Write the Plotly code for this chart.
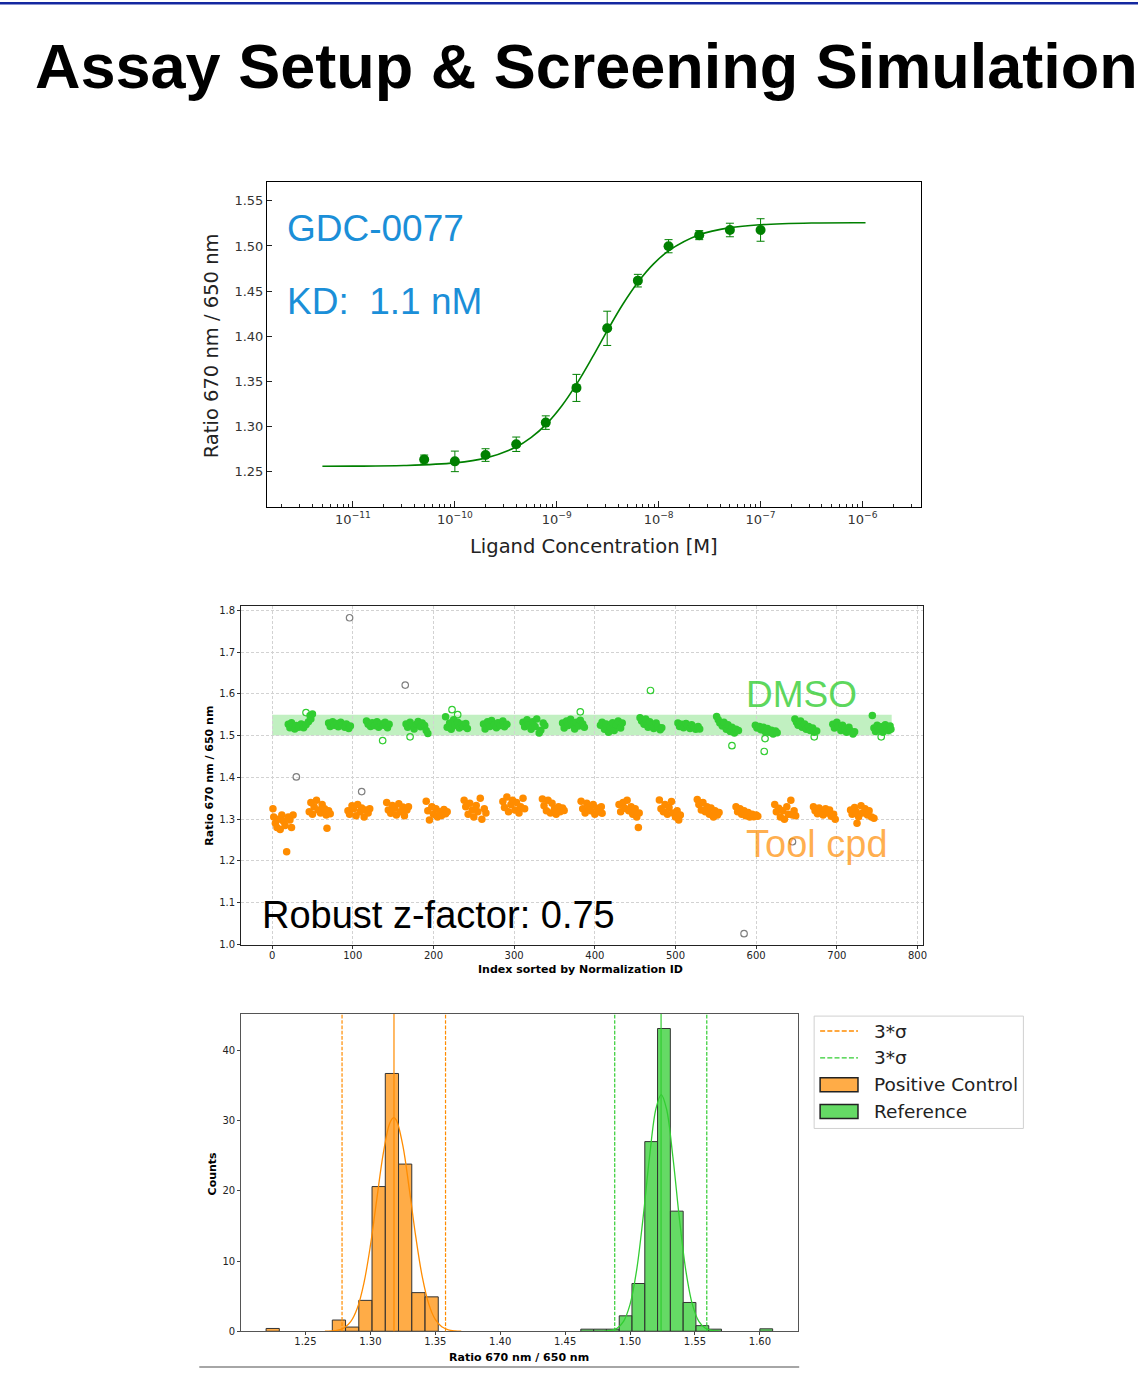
import numpy as np
import plotly.graph_objects as go

W, H = 1142, 1384

# ---------------- data: binding curve ----------------
conc_M = [5e-11, 1e-10, 2e-10, 4e-10, 7.8e-10, 1.56e-9, 3.125e-9, 6.25e-9, 1.25e-8, 2.5e-8, 5e-8, 1e-7]
ratio_mean = [1.263, 1.261, 1.268, 1.280, 1.304, 1.3425, 1.4086, 1.4615, 1.4997, 1.512, 1.5177, 1.5177]
ratio_err = [0.005, 0.0114, 0.007, 0.008, 0.0075, 0.015, 0.019, 0.007, 0.0073, 0.005, 0.0075, 0.0125]
fit_log_conc = [-11.3, -11.0, -10.5, -10.0, -9.7, -9.4, -9.25, -9.1, -8.95, -8.8, -8.65, -8.5,
                -8.35, -8.2, -8.05, -7.9, -7.6, -7.3, -7.0, -6.5, -5.97]
fit_ratio = [1.2556, 1.2557, 1.2564, 1.2593, 1.2646, 1.2769, 1.2876, 1.3026, 1.3227, 1.3478, 1.3766, 1.4069,
             1.4356, 1.4603, 1.4801, 1.4948, 1.5124, 1.5203, 1.5236, 1.5255, 1.5258]
decade_ticks = [1e-11, 1e-10, 1e-9, 1e-8, 1e-7, 1e-6]
decade_labels = ["10<sup>\u221211</sup>", "10<sup>\u221210</sup>", "10<sup>\u22129</sup>",
                 "10<sup>\u22128</sup>", "10<sup>\u22127</sup>", "10<sup>\u22126</sup>"]

# ---------------- data: screening scatter ----------------
dmso_idx = [20, 22, 24, 26, 28, 30, 33, 36, 39, 42, 45, 47, 48, 50,
            70, 72, 75, 77, 80, 82, 85, 87, 90, 92, 95, 97,
            117, 119, 122, 124, 127, 130, 132, 135, 138, 140, 143, 145,
            166, 168, 171, 174, 176, 179, 181, 184, 186, 189, 191, 193,
            215, 217, 220, 222, 225, 227, 230, 232, 235, 237, 240, 242,
            262, 264, 267, 270, 272, 275, 278, 280, 283, 286, 288, 291,
            311, 313, 316, 318, 321, 323, 326, 328, 331, 333, 336, 338,
            360, 362, 365, 367, 370, 372, 375, 377, 380, 382, 385, 387,
            407, 409, 412, 414, 417, 419, 422, 424, 427, 429, 432, 434,
            456, 458, 461, 463, 466, 468, 471, 473, 476, 478, 481, 483,
            503, 505, 508, 510, 513, 515, 518, 520, 523, 525, 528, 530,
            551, 553, 555, 558, 560, 563, 565, 568, 570, 573, 575, 578,
            599, 601, 604, 606, 609, 611, 614, 616, 619, 621, 624, 626,
            648, 650, 652, 655, 657, 660, 662, 665, 667, 670, 672, 675,
            695, 697, 700, 702, 705, 707, 710, 712, 715, 717, 720, 722,
            744, 746, 748, 750, 753, 755, 757, 760, 762, 764, 766, 767]
dmso_ratio = [1.527, 1.519, 1.531, 1.522, 1.516, 1.524, 1.520, 1.528, 1.519, 1.526, 1.533, 1.548, 1.540, 1.552,
              1.530, 1.522, 1.533, 1.525, 1.529, 1.521, 1.532, 1.526, 1.520, 1.528, 1.517, 1.523,
              1.535, 1.527, 1.522, 1.531, 1.524, 1.533, 1.520, 1.528, 1.525, 1.532, 1.519, 1.527,
              1.528, 1.520, 1.532, 1.524, 1.516, 1.527, 1.534, 1.521, 1.530, 1.524, 1.512, 1.505,
              1.545, 1.520, 1.530, 1.515, 1.538, 1.525, 1.532, 1.518, 1.527, 1.522, 1.529, 1.517,
              1.528, 1.516, 1.533, 1.522, 1.536, 1.526, 1.519, 1.531, 1.524, 1.535, 1.521, 1.527,
              1.532, 1.521, 1.538, 1.526, 1.515, 1.533, 1.522, 1.540, 1.506, 1.513, 1.530, 1.524,
              1.530, 1.518, 1.535, 1.524, 1.539, 1.527, 1.516, 1.532, 1.523, 1.537, 1.528, 1.520,
              1.525, 1.532, 1.515, 1.528, 1.508, 1.520, 1.531, 1.512, 1.526, 1.535, 1.518, 1.530,
              1.543, 1.535, 1.527, 1.540, 1.520, 1.533, 1.525, 1.517, 1.530, 1.521, 1.514, 1.519,
              1.530, 1.522, 1.527, 1.519, 1.529, 1.523, 1.517, 1.526, 1.520, 1.515, 1.522, 1.516,
              1.546, 1.538, 1.530, 1.523, 1.532, 1.515, 1.526, 1.510, 1.520, 1.506, 1.515, 1.512,
              1.525, 1.518, 1.522, 1.514, 1.520, 1.510, 1.517, 1.508, 1.513, 1.504, 1.511, 1.507,
              1.540, 1.532, 1.525, 1.535, 1.520, 1.528, 1.515, 1.522, 1.512, 1.518, 1.508, 1.511,
              1.527, 1.518, 1.532, 1.522, 1.512, 1.525, 1.516, 1.508, 1.520, 1.511, 1.504, 1.509,
              1.548, 1.518, 1.510, 1.525, 1.514, 1.521, 1.508, 1.526, 1.517, 1.512, 1.523, 1.515]

tool_idx = [1, 2, 4, 6, 8, 10, 12, 14, 16, 18, 20, 22, 24, 26,
            46, 48, 50, 52, 55, 57, 60, 62, 65, 67, 70, 72, 68,
            94, 96, 99, 101, 104, 106, 109, 111, 114, 116, 119, 121,
            142, 144, 147, 149, 152, 154, 157, 159, 162, 164, 167, 169,
            191, 193, 195, 198, 200, 203, 205, 208, 210, 213, 215, 217,
            238, 240, 243, 245, 248, 250, 253, 255, 258, 260, 263, 265,
            286, 288, 291, 293, 296, 298, 301, 303, 306, 308, 311, 313,
            335, 337, 340, 342, 345, 347, 350, 352, 355, 357, 360, 362,
            383, 385, 388, 390, 393, 395, 398, 400, 403, 405, 408, 409,
            430, 432, 435, 437, 440, 442, 445, 447, 450, 452, 455, 454,
            480, 482, 485, 487, 490, 492, 495, 497, 500, 502, 504, 506,
            527, 529, 532, 534, 537, 539, 542, 544, 547, 549, 552, 554,
            575, 577, 580, 582, 585, 587, 590, 592, 595, 597, 600, 602,
            623, 625, 628, 630, 633, 635, 638, 640, 643, 645, 647, 649,
            671, 673, 676, 678, 681, 683, 686, 688, 691, 693, 696, 698,
            717, 719, 722, 724, 727, 730, 732, 735, 738, 740, 743, 746, 725]
tool_ratio = [1.325, 1.305, 1.290, 1.280, 1.300, 1.275, 1.310, 1.295, 1.285, 1.222, 1.305, 1.298, 1.280, 1.310,
              1.318, 1.340, 1.312, 1.330, 1.345, 1.322, 1.315, 1.335, 1.325, 1.310, 1.320, 1.313, 1.278,
              1.320, 1.312, 1.332, 1.325, 1.308, 1.335, 1.318, 1.327, 1.305, 1.322, 1.315, 1.325,
              1.340, 1.322, 1.314, 1.333, 1.326, 1.310, 1.337, 1.318, 1.329, 1.308, 1.322, 1.330,
              1.343, 1.320, 1.298, 1.330, 1.312, 1.325, 1.305, 1.318, 1.309, 1.323, 1.313, 1.318,
              1.345, 1.330, 1.312, 1.338, 1.322, 1.305, 1.333, 1.318, 1.350, 1.300, 1.325, 1.315,
              1.342, 1.328, 1.353, 1.318, 1.335, 1.345, 1.322, 1.340, 1.315, 1.330, 1.350, 1.325,
              1.348, 1.332, 1.320, 1.345, 1.315, 1.338, 1.325, 1.312, 1.330, 1.318, 1.327, 1.321,
              1.343, 1.325, 1.315, 1.338, 1.328, 1.320, 1.335, 1.312, 1.326, 1.318, 1.330, 1.314,
              1.335, 1.318, 1.340, 1.326, 1.345, 1.320, 1.330, 1.312, 1.325, 1.305, 1.315, 1.280,
              1.346, 1.325, 1.318, 1.335, 1.312, 1.328, 1.342, 1.315, 1.305, 1.320, 1.298, 1.310,
              1.347, 1.335, 1.322, 1.340, 1.318, 1.330, 1.312, 1.327, 1.305, 1.320, 1.310, 1.316,
              1.330, 1.318, 1.325, 1.312, 1.320, 1.308, 1.316, 1.305, 1.312, 1.306, 1.310, 1.307,
              1.335, 1.318, 1.326, 1.305, 1.320, 1.300, 1.330, 1.312, 1.345, 1.310, 1.320, 1.308,
              1.330, 1.320, 1.313, 1.327, 1.318, 1.310, 1.325, 1.315, 1.322, 1.307, 1.312, 1.300,
              1.322, 1.312, 1.328, 1.318, 1.306, 1.332, 1.315, 1.325, 1.310, 1.320, 1.305, 1.302, 1.290]

dmso_out_idx = [42, 137, 171, 223, 230, 382, 469, 570, 610, 611, 672, 755]
dmso_out_ratio = [1.555, 1.488, 1.497, 1.562, 1.550, 1.557, 1.608, 1.476, 1.462, 1.493, 1.497, 1.497]
other_out_idx = [96, 30, 165, 111, 585, 645]
other_out_ratio = [1.782, 1.401, 1.621, 1.366, 1.026, 1.246]
dmso_band = [1.50, 1.55]
band_idx = [0, 768]

# ---------------- data: histogram ----------------
pc_bin_centers = [1.2248, 1.2350, 1.2452, 1.2554, 1.2656, 1.2758, 1.2860, 1.2962, 1.3064, 1.3166, 1.3268, 1.3370, 1.3472]
pc_counts = [0.4, 0, 0, 0, 0, 1.6, 0.6, 4.4, 20.6, 36.7, 23.8, 5.5, 4.9]
pc_bin_width = 0.0102
ref_bin_centers = [1.4670, 1.4769, 1.4867, 1.4966, 1.5064, 1.5163, 1.5261, 1.5360, 1.5458, 1.5557,
                   1.5655, 1.5754, 1.5852, 1.5951, 1.6049]
ref_counts = [0.3, 0.3, 0.3, 2.2, 6.8, 27.0, 43.1, 17.1, 4.1, 0.8, 0.3, 0, 0, 0, 0.35]
ref_bin_width = 0.00985
pc_kde_x = [1.265, 1.270, 1.275, 1.280, 1.285, 1.290, 1.295, 1.300, 1.305, 1.310, 1.315, 1.318, 1.320,
            1.325, 1.330, 1.335, 1.340, 1.345, 1.350, 1.355, 1.360, 1.365, 1.370]
pc_kde_y = [0.01, 0.045, 0.16, 0.51, 1.40, 3.31, 6.82, 12.15, 18.86, 25.37, 29.64, 30.4, 30.06,
            26.47, 20.24, 13.43, 7.74, 3.87, 1.68, 0.63, 0.21, 0.06, 0.015]
ref_kde_x = [1.480, 1.485, 1.490, 1.495, 1.500, 1.505, 1.510, 1.515, 1.520, 1.524, 1.528, 1.533,
             1.538, 1.543, 1.548, 1.553, 1.558, 1.563, 1.568]
ref_kde_y = [0.02, 0.11, 0.43, 1.40, 3.82, 8.61, 16.07, 24.81, 31.72, 33.7, 31.72, 24.81,
             16.07, 8.61, 3.82, 1.40, 0.43, 0.11, 0.02]
pc_mean, pc_3sd = 1.3182, [1.2782, 1.3579]
ref_mean, ref_3sd = 1.5239, [1.4882, 1.5591]

GREEN_DARK = "#008000"
LIME = "#32cd32"
ORANGE = "#ff8c00"
BLUE_TXT = "#1b8fd8"
DASH = "3.7px,1.6px"


def px_x(p):
    return p / W


def px_y(p):
    return 1 - p / H


fig = go.Figure()

# ---- chart 1 ----
fig.add_trace(go.Scatter(x=[10 ** v for v in fit_log_conc], y=fit_ratio, mode="lines",
                         line=dict(color=GREEN_DARK, width=1.6, shape="spline"),
                         xaxis="x", yaxis="y", hoverinfo="skip"))
fig.add_trace(go.Scatter(x=conc_M, y=ratio_mean, mode="markers",
                         marker=dict(color=GREEN_DARK, size=10),
                         error_y=dict(type="data", array=ratio_err, color=GREEN_DARK, thickness=1, width=4),
                         xaxis="x", yaxis="y"))

# ---- chart 2 ----
fig.add_trace(go.Scatter(x=tool_idx, y=tool_ratio, mode="markers",
                         marker=dict(color=ORANGE, size=7.5), xaxis="x2", yaxis="y2"))
fig.add_trace(go.Scatter(x=dmso_idx, y=dmso_ratio, mode="markers",
                         marker=dict(color=LIME, size=7.5), xaxis="x2", yaxis="y2"))
fig.add_trace(go.Scatter(x=dmso_out_idx, y=dmso_out_ratio, mode="markers",
                         marker=dict(color="rgba(0,0,0,0)", size=6.5, line=dict(color=LIME, width=1.2)),
                         xaxis="x2", yaxis="y2"))
fig.add_trace(go.Scatter(x=other_out_idx, y=other_out_ratio, mode="markers",
                         marker=dict(color="rgba(0,0,0,0)", size=6.5, line=dict(color="#808080", width=1.2)),
                         xaxis="x2", yaxis="y2"))

# ---- chart 3 ----
pc_mask = [c > 0 for c in pc_counts]
ref_mask = [c > 0 for c in ref_counts]
fig.add_trace(go.Bar(x=[x for x, m in zip(pc_bin_centers, pc_mask) if m],
                     y=[c for c, m in zip(pc_counts, pc_mask) if m], width=pc_bin_width,
                     marker=dict(color="rgba(255,140,0,0.72)", line=dict(color="#333333", width=1)),
                     xaxis="x3", yaxis="y3"))
fig.add_trace(go.Bar(x=[x for x, m in zip(ref_bin_centers, ref_mask) if m],
                     y=[c for c, m in zip(ref_counts, ref_mask) if m], width=ref_bin_width,
                     marker=dict(color="rgba(50,205,50,0.75)", line=dict(color="#333333", width=1)),
                     xaxis="x3", yaxis="y3"))
fig.add_trace(go.Scatter(x=pc_kde_x, y=pc_kde_y, mode="lines", line=dict(color=ORANGE, width=1.3, shape="spline"),
                         xaxis="x3", yaxis="y3"))
fig.add_trace(go.Scatter(x=ref_kde_x, y=ref_kde_y, mode="lines", line=dict(color=LIME, width=1.3, shape="spline"),
                         xaxis="x3", yaxis="y3"))

shapes = []
# top blue rule
shapes.append(dict(type="rect", xref="paper", yref="paper", x0=0, x1=1, y0=px_y(2.5), y1=1,
                   fillcolor="#1428a0", line=dict(width=0)))
# bottom gray rule
shapes.append(dict(type="line", xref="paper", yref="paper", x0=px_x(200), x1=px_x(802),
                   y0=px_y(1373), y1=px_y(1373), line=dict(color="#888888", width=1.5)))
# DMSO band
shapes.append(dict(type="rect", xref="x2", yref="y2", x0=band_idx[0], x1=band_idx[1], y0=dmso_band[0],
                   y1=dmso_band[1], fillcolor="rgba(50,205,50,0.3)", line=dict(width=0), layer="below"))
# histogram reference lines
for v in pc_3sd:
    shapes.append(dict(type="line", xref="x3", yref="y3 domain", x0=v, x1=v, y0=0, y1=1,
                       line=dict(color=ORANGE, width=1.2, dash=DASH)))
shapes.append(dict(type="line", xref="x3", yref="y3 domain", x0=pc_mean, x1=pc_mean, y0=0, y1=1,
                   line=dict(color=ORANGE, width=1.2)))
for v in ref_3sd:
    shapes.append(dict(type="line", xref="x3", yref="y3 domain", x0=v, x1=v, y0=0, y1=1,
                       line=dict(color=LIME, width=1.2, dash=DASH)))
shapes.append(dict(type="line", xref="x3", yref="y3 domain", x0=ref_mean, x1=ref_mean, y0=0, y1=1,
                   line=dict(color=LIME, width=1.2)))

# legend (manual)
shapes.append(dict(type="rect", xref="paper", yref="paper", x0=px_x(817), x1=px_x(1027),
                   y0=px_y(1133), y1=px_y(1020), line=dict(color="#d0d0d0", width=1), fillcolor="white"))
shapes.append(dict(type="line", xref="paper", yref="paper", x0=px_x(823), x1=px_x(861),
                   y0=px_y(1035), y1=px_y(1035), line=dict(color=ORANGE, width=1.4, dash="5px,2.2px")))
shapes.append(dict(type="line", xref="paper", yref="paper", x0=px_x(823), x1=px_x(861),
                   y0=px_y(1062), y1=px_y(1062), line=dict(color=LIME, width=1.4, dash="5px,2.2px")))
shapes.append(dict(type="rect", xref="paper", yref="paper", x0=px_x(823), x1=px_x(861),
                   y0=px_y(1096), y1=px_y(1082), fillcolor="rgba(255,140,0,0.72)", line=dict(color="#222", width=1.5)))
shapes.append(dict(type="rect", xref="paper", yref="paper", x0=px_x(823), x1=px_x(861),
                   y0=px_y(1123), y1=px_y(1109), fillcolor="rgba(50,205,50,0.75)", line=dict(color="#222", width=1.5)))

ann = []


def add_text(text, x, y, size, color="black", family="DejaVu Sans", xanchor="left", angle=0):
    ann.append(dict(text=text, x=px_x(x), y=px_y(y), xref="paper", yref="paper", showarrow=False,
                    xanchor=xanchor, yanchor="middle", textangle=angle,
                    font=dict(size=size, color=color, family=family)))


add_text("<b>Assay Setup &amp; Screening Simulation</b>", 33, 64, 63, family="Liberation Sans")
add_text("GDC-0077", 286, 228, 37, BLUE_TXT, family="Liberation Sans")
add_text("KD:\u00a0 1.1 nM", 286, 301, 37, BLUE_TXT, family="Liberation Sans")
add_text("Ligand Concentration [M]", 596, 548, 19.5, "#222", xanchor="center")
add_text("Ratio 670 nm / 650 nm", 212, 346, 19.5, "#222", xanchor="center", angle=-90)

add_text("DMSO", 747, 697, 37, "rgba(50,205,50,0.8)", family="Liberation Sans")
add_text("Tool cpd", 747, 847, 38, "rgba(255,140,0,0.7)", family="Liberation Sans")
add_text("Robust z-factor: 0.75", 261, 918, 38, "black", family="Liberation Sans")
add_text("<b>Index sorted by Normalization ID</b>", 583, 973, 11, "black", xanchor="center")
add_text("<b>Ratio 670 nm / 650 nm</b>", 210, 778, 11, "black", xanchor="center", angle=-90)

add_text("<b>Ratio 670 nm / 650 nm</b>", 521, 1363, 11, "black", xanchor="center")
add_text("<b>Counts</b>", 213, 1178, 11, "black", xanchor="center", angle=-90)

add_text("3*\u03c3", 875, 1035, 18.5, "#222")
add_text("3*\u03c3", 875, 1062, 18.5, "#222")
add_text("Positive Control", 875, 1089, 18.5, "#222")
add_text("Reference", 875, 1116, 18.5, "#222")

minor_vals = [k * 10.0 ** e for e in range(-12, -5) for k in range(2, 10)]

fig.update_layout(
    width=W, height=H, margin=dict(l=0, r=0, t=0, b=0),
    paper_bgcolor="white", plot_bgcolor="white", showlegend=False, barmode="overlay",
    shapes=shapes, annotations=ann,
    xaxis=dict(domain=[px_x(268), px_x(924)], anchor="y", type="log", range=[-11.843, -5.428],
               tickmode="array", tickvals=decade_ticks, ticktext=decade_labels,
               ticks="inside", ticklen=6, tickcolor="#222",
               minor=dict(tickmode="array", tickvals=minor_vals, ticks="inside", ticklen=3, tickcolor="#222"),
               showline=True, mirror=True, linecolor="black", linewidth=1.2, showgrid=False, zeroline=False,
               tickfont=dict(family="DejaVu Sans", size=13, color="#333")),
    yaxis=dict(domain=[px_y(508), px_y(181)], anchor="x", range=[1.2103, 1.571],
               tickvals=[1.25, 1.30, 1.35, 1.40, 1.45, 1.50, 1.55], tickformat=".2f",
               ticks="inside", ticklen=5, tickcolor="#222",
               showline=True, mirror=True, linecolor="black", linewidth=1.2, showgrid=False, zeroline=False,
               tickfont=dict(family="DejaVu Sans", size=13, color="#333")),
    xaxis2=dict(domain=[px_x(242), px_x(926)], anchor="y2", range=[-38.4, 806.5],
                tickvals=list(range(0, 801, 100)), ticks="outside", ticklen=3, tickcolor="#333",
                ticklabelstandoff=-2,
                showline=True, mirror=True, linecolor="#222", linewidth=1,
                showgrid=True, gridcolor="#d2d2d2", griddash="3px,2px", gridwidth=0.8, zeroline=False,
                tickfont=dict(family="DejaVu Sans", size=10, color="#222")),
    yaxis2=dict(domain=[px_y(948), px_y(608)], anchor="x2", range=[1.0, 1.809],
                tickvals=[1.0, 1.1, 1.2, 1.3, 1.4, 1.5, 1.6, 1.7, 1.8], tickformat=".1f",
                ticks="outside", ticklen=3, tickcolor="#333",
                showline=True, mirror=True, linecolor="#222", linewidth=1,
                showgrid=True, gridcolor="#d2d2d2", griddash="3px,2px", gridwidth=0.8, zeroline=False,
                tickfont=dict(family="DejaVu Sans", size=10, color="#222")),
    xaxis3=dict(domain=[px_x(242), px_x(801)], anchor="y3", range=[1.2005, 1.6295],
                tickvals=[1.25, 1.30, 1.35, 1.40, 1.45, 1.50, 1.55, 1.60], tickformat=".2f",
                ticks="outside", ticklen=3, tickcolor="#444", ticklabelstandoff=-2,
                showline=True, mirror=True, linecolor="#555", linewidth=1, showgrid=False, zeroline=False,
                tickfont=dict(family="DejaVu Sans", size=10, color="#222")),
    yaxis3=dict(domain=[px_y(1337), px_y(1018)], anchor="x3", range=[0, 45.15],
                tickvals=[0, 10, 20, 30, 40], ticks="outside", ticklen=3, tickcolor="#444",
                showline=True, mirror=True, linecolor="#555", linewidth=1, showgrid=False, zeroline=False,
                tickfont=dict(family="DejaVu Sans", size=10, color="#222")),
)

fig.write_html("out.html", config={"displayModeBar": False},
               post_script="document.body.style.margin='0';document.body.style.overflow='hidden';")
